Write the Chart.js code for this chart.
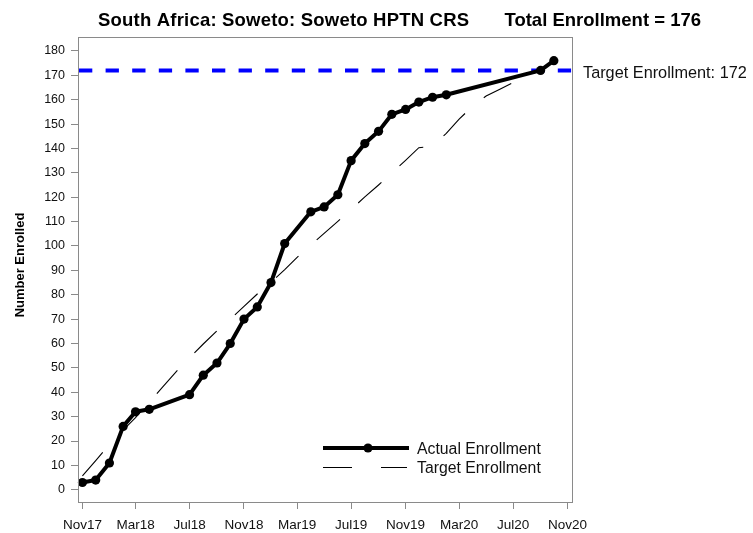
<!DOCTYPE html>
<html><head><meta charset="utf-8">
<script src="https://cdn.jsdelivr.net/npm/chart.js@4.4.1/dist/chart.umd.min.js"></script>
<style>html,body{margin:0;padding:0;background:#fff}canvas{display:block}</style>
</head><body>
<canvas id="c" width="753" height="533"></canvas>
<script>
// ---- text ----
const titleLeft = 'South Africa: Soweto: Soweto HPTN CRS';
const titleRight = 'Total Enrollment = 176';
const yAxisTitle = 'Number Enrolled';
const actualLabel = 'Actual Enrollment';
const targetLabel = 'Target Enrollment';
const targetTextPrefix = 'Target Enrollment: ';
const targetTotal = 172;

// ---- data ----
const actualDates = ['2017-11-01','2017-12-01','2018-01-01','2018-02-01','2018-03-01','2018-04-01',
  '2018-07-01','2018-08-01','2018-09-01','2018-10-01','2018-11-01','2018-12-01','2019-01-01',
  '2019-02-01','2019-04-01','2019-05-01','2019-06-01','2019-07-01','2019-08-01','2019-09-01',
  '2019-10-01','2019-11-01','2019-12-01','2020-01-01','2020-02-01','2020-09-01','2020-10-01'];
const actualValues = [3,4,11,26,32,33,39,47,52,60,70,75,85,101,114,116,121,135,142,147,154,156,159,161,162,172,176];

const targetDates = ['2017-11-01','2017-12-01','2018-01-01','2018-02-01','2018-03-01','2018-04-01',
  '2018-05-01','2018-06-01','2018-07-01','2018-08-01','2018-09-01','2018-10-01','2018-11-01',
  '2018-12-01','2019-01-01','2019-02-01','2019-03-01','2019-04-01','2019-05-01','2019-06-01',
  '2019-07-01','2019-08-01','2019-09-01','2019-10-01','2019-11-01','2019-12-01','2020-01-01',
  '2020-02-01','2020-03-01','2020-04-01','2020-05-01','2020-06-01','2020-07-01','2020-08-01','2020-09-01'];
const targetValues = [5.7,12.0,18.5,24.5,29.6,35.9,42.1,48.5,54.2,59.8,65.2,70.0,75.2,
  80.3,85.1,90.3,95.3,100.4,105.2,110.1,115.0,120.1,125.0,129.9,135.1,140.3,140.9,
  146.2,152.0,157.4,161.5,164.3,167.0,169.7,172.0];

const xTickDates = ['2017-11-01','2018-03-01','2018-07-01','2018-11-01','2019-03-01','2019-07-01',
  '2019-11-01','2020-03-01','2020-07-01','2020-11-01'];
const xTickLabels = ['Nov17','Mar18','Jul18','Nov18','Mar19','Jul19','Nov19','Mar20','Jul20','Nov20'];
const yTickValues = [0,10,20,30,40,50,60,70,80,90,100,110,120,130,140,150,160,170,180];

// ---- helpers ----
const origin = Date.UTC(2017, 10, 1);
const toDay = s => (Date.parse(s + 'T00:00:00Z') - origin) / 86400000;
const xTickDays = xTickDates.map(toDay);

const FONT = '"Liberation Sans", Arial, sans-serif';
const AXIS_GRAY = '#8a8a8a';

const decor = {
  id: 'decor',
  beforeDatasetsDraw(chart) {
    const {ctx, chartArea: a, scales: {y}} = chart;
    const yy = y.getPixelForValue(targetTotal);
    ctx.save();
    ctx.beginPath(); ctx.rect(a.left, a.top, a.right - a.left, a.bottom - a.top); ctx.clip();
    ctx.strokeStyle = '#0000ff'; ctx.lineWidth = 4; ctx.setLineDash([13.3, 13.3]);
    ctx.beginPath(); ctx.moveTo(a.left + 1, yy); ctx.lineTo(a.right, yy); ctx.stroke();
    ctx.restore();
  },
  afterDraw(chart) {
    const {ctx, chartArea: a, scales: {y}} = chart;
    ctx.save();
    // frame
    ctx.strokeStyle = AXIS_GRAY; ctx.lineWidth = 1; ctx.setLineDash([]);
    ctx.strokeRect(a.left + 0.5, a.top + 0.5, a.right - a.left, a.bottom - a.top);
    // title
    ctx.fillStyle = '#000';
    ctx.font = 'bold 18.5px ' + FONT;
    ctx.textBaseline = 'alphabetic';
    ctx.letterSpacing = '0.2px';
    ctx.textAlign = 'left'; ctx.fillText(titleLeft, 98, 25.5);
    ctx.letterSpacing = '0px';
    ctx.textAlign = 'right'; ctx.fillText(titleRight, 701, 25.5);
    // y axis title
    ctx.save();
    ctx.translate(24, 265); ctx.rotate(-Math.PI / 2);
    ctx.font = 'bold 13px ' + FONT; ctx.textAlign = 'center';
    ctx.fillText(yAxisTitle, 0, 0);
    ctx.restore();
    // target label
    const yy = y.getPixelForValue(targetTotal);
    ctx.font = '16.3px ' + FONT; ctx.textAlign = 'left'; ctx.fillStyle = '#111';
    ctx.fillText(targetTextPrefix + targetTotal, 583, yy + 8);
    // legend
    const ds0 = chart.data.datasets[0], ds1 = chart.data.datasets[1];
    ctx.strokeStyle = ds0.borderColor; ctx.lineWidth = ds0.borderWidth;
    ctx.beginPath(); ctx.moveTo(323, 448); ctx.lineTo(409, 448); ctx.stroke();
    ctx.fillStyle = ds0.pointBackgroundColor;
    ctx.beginPath(); ctx.arc(368, 448, ds0.pointRadius, 0, Math.PI * 2); ctx.fill();
    ctx.strokeStyle = ds1.borderColor; ctx.lineWidth = ds1.borderWidth;
    ctx.beginPath(); ctx.moveTo(323, 467.5); ctx.lineTo(352, 467.5);
    ctx.moveTo(381, 467.5); ctx.lineTo(407, 467.5); ctx.stroke();
    ctx.fillStyle = '#111'; ctx.font = '15.8px ' + FONT; ctx.textAlign = 'left';
    ctx.fillText(ds0.label, 417, 453.5);
    ctx.fillText(ds1.label, 417, 472.5);
    ctx.restore();
  }
};

new Chart(document.getElementById('c'), {
  type: 'line',
  data: {
    datasets: [
      {
        label: actualLabel,
        data: actualDates.map((d, i) => ({x: toDay(d), y: actualValues[i]})),
        borderColor: '#000', backgroundColor: '#000', borderWidth: 4,
        pointRadius: 4.6, pointBackgroundColor: '#000', pointBorderWidth: 0,
        borderJoinStyle: 'round', borderCapStyle: 'round',
        tension: 0, order: 0, clip: false
      },
      {
        label: targetLabel,
        data: targetDates.map((d, i) => ({x: toDay(d), y: targetValues[i]})),
        borderColor: '#000', borderWidth: 1.1, borderDash: [31, 24.5],
        pointRadius: 0, tension: 0, order: 1
      }
    ]
  },
  options: {
    responsive: false, animation: false, events: [],
    layout: {padding: {top: 37, right: 181, left: 0, bottom: 0}},
    plugins: {legend: {display: false}, title: {display: false}, tooltip: {enabled: false}},
    scales: {
      x: {
        type: 'linear', min: -10, max: 1106,
        afterBuildTicks: s => { s.ticks = xTickDays.map(v => ({value: v})); },
        afterFit: s => { s.height = 31; },
        border: {display: false},
        grid: {display: true, drawOnChartArea: false, drawTicks: true, tickLength: 7, color: AXIS_GRAY},
        ticks: {
          autoSkip: false, maxRotation: 0, minRotation: 0, padding: 8,
          color: '#111', font: {family: FONT, size: 13.5},
          callback: (v, i) => xTickLabels[i]
        }
      },
      y: {
        type: 'linear', min: -5, max: 185.7,
        afterBuildTicks: s => { s.ticks = yTickValues.map(v => ({value: v})); },
        afterFit: s => { s.width = 78; },
        border: {display: false},
        grid: {display: true, drawOnChartArea: false, drawTicks: true, tickLength: 7, color: AXIS_GRAY},
        ticks: {
          autoSkip: false, padding: 6,
          color: '#111', font: {family: FONT, size: 12.5}
        }
      }
    }
  },
  plugins: [decor]
});
</script>
</body></html>
